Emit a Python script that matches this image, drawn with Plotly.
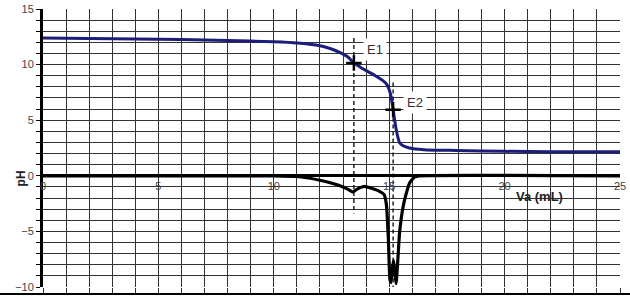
import plotly.graph_objects as go

# Titration curve (pH vs volume)
va_ph = [0, 2, 4, 6, 8, 10, 11, 11.9, 12.5, 12.9, 13.2, 13.47, 13.8, 14.1, 14.4, 14.7, 14.9, 15.05, 15.17, 15.3, 15.45, 15.6, 15.88, 16.5, 17.9, 20, 22, 25]
ph = [12.4, 12.35, 12.3, 12.25, 12.17, 12.05, 11.95, 11.74, 11.4, 11.05, 10.7, 10.15, 9.7, 9.35, 9.0, 8.6, 8.2, 7.4, 5.95, 4.2, 2.97, 2.7, 2.5, 2.35, 2.28, 2.2, 2.17, 2.16]

# Derivative curve
va_d = [0, 10, 11, 11.5, 12, 12.56, 13.0, 13.2, 13.43, 13.65, 13.93, 14.2, 14.58, 14.78, 14.88, 14.96, 15.03, 15.08, 15.13, 15.19, 15.25, 15.3, 15.36, 15.45, 15.6, 15.75, 15.88, 16.1, 16.3, 25]
dph = [0, 0, -0.05, -0.2, -0.4, -0.7, -1.0, -1.2, -1.45, -1.15, -0.95, -1.1, -1.4, -1.7, -2.6, -5.5, -9.3, -9.6, -8.4, -7.6, -8.9, -9.7, -8.0, -5.1, -2.8, -1.5, -0.66, -0.1, 0, 0]

# Equivalence points
eq_names = ["E1", "E2"]
eq_va = [13.47, 15.17]
eq_ph = [10.15, 5.95]
eq_top = [12.4, 8.4]
eq_bottom = [-3.4, -10.3]
label_x = [14.4, 16.1]
label_y = [11.35, 6.6]

x_ticks = [0, 5, 10, 15, 20, 25]
y_ticks = [-10, -5, 0, 5, 10, 15]

grid_col = "#333333"
fig = go.Figure()

# dashed verticals
for xv, yt, yb in zip(eq_va, eq_top, eq_bottom):
    fig.add_trace(go.Scatter(x=[xv, xv], y=[yt, yb], mode="lines",
                             line=dict(color="black", width=1.3, dash="4px,3px"),
                             showlegend=False, hoverinfo="skip", cliponaxis=False))

fig.add_trace(go.Scatter(x=va_ph, y=ph, mode="lines", line=dict(color="#1c1c7a", width=3, shape="spline", smoothing=0.6),
                         showlegend=False))
fig.add_trace(go.Scatter(x=va_d, y=dph, mode="lines", line=dict(color="black", width=3.2, shape="spline", smoothing=0.4),
                         showlegend=False, cliponaxis=False))
fig.add_trace(go.Scatter(x=eq_va, y=eq_ph, mode="markers",
                         marker=dict(symbol="cross-thin", size=11, line=dict(color="black", width=2.5)),
                         showlegend=False))

for n, lx, ly in zip(eq_names, label_x, label_y):
    fig.add_annotation(x=lx, y=ly, text=n, showarrow=False, bgcolor="white",
                       font=dict(family="Liberation Sans, Arial", size=13, color="#333"), borderpad=3)

fig.add_annotation(xref="paper", yref="paper", x=-0.053, y=(178 - 287) / -278,
                   text="<b>pH</b>", showarrow=False, textangle=-90,
                   font=dict(family="Liberation Sans, Arial", size=12, color="#222"))
fig.add_annotation(x=21.5, y=-1.9, text="<b>Va (mL)</b>", showarrow=False,
                   font=dict(family="Liberation Sans, Arial", size=13, color="#222"))

fig.add_shape(type="line", xref="paper", yref="paper", x0=-0.1, x1=1.1, y0=-0.025, y1=-0.025,
              line=dict(color="black", width=2))

fig.update_layout(
    width=630, height=300, margin=dict(l=43, r=10, t=9, b=13, autoexpand=False),
    plot_bgcolor="white", paper_bgcolor="white",
    xaxis=dict(range=[0, 25], tickvals=x_ticks, showgrid=True, gridcolor=grid_col, gridwidth=1,
               automargin=False,
               minor=dict(dtick=1, showgrid=True, gridcolor=grid_col, gridwidth=1, ticks="outside",
                          ticklen=5, tickcolor=grid_col),
               ticks="outside", ticklen=5, tickcolor=grid_col,
               showticklabels=False, zeroline=False, showline=False),
    xaxis2=dict(range=[0, 25], tickvals=x_ticks, overlaying="x", anchor="free", position=0.4,
                automargin=False,
                showgrid=False, zeroline=False, ticks="", showline=False,
                tickfont=dict(family="Liberation Sans, Arial", size=11, color="#444"), ticklabelstandoff=2),
    yaxis=dict(range=[-10, 15], tickvals=y_ticks, showgrid=True, gridcolor=grid_col, gridwidth=1,
               automargin=False,
               minor=dict(dtick=1, showgrid=True, gridcolor=grid_col, gridwidth=1, ticks="outside",
                          ticklen=4, tickcolor="black"),
               ticks="outside", ticklen=4, tickcolor="black",
               zeroline=True, zerolinecolor="black", zerolinewidth=3,
               showline=True, linecolor="black", linewidth=3,
               tickfont=dict(family="Liberation Sans, Arial", size=11, color="#444")),
)
# dummy trace to show xaxis2 labels
fig.add_trace(go.Scatter(x=[0], y=[0], xaxis="x2", mode="markers", marker=dict(opacity=0),
                         showlegend=False, hoverinfo="skip"))
fig.write_html("out.html")
